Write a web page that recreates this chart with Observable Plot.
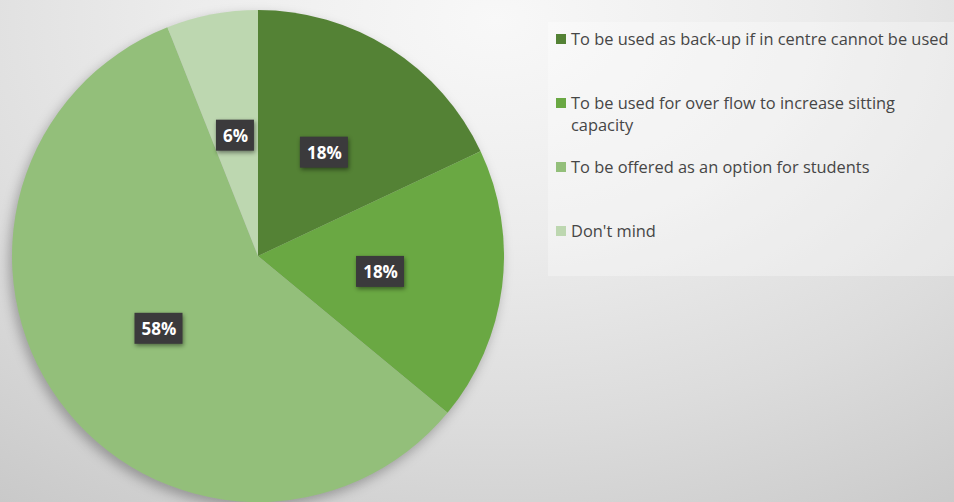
<!DOCTYPE html>
<html>
<head>
<meta charset="utf-8">
<script src="https://cdn.jsdelivr.net/npm/d3@7"></script>
<script src="https://cdn.jsdelivr.net/npm/@observablehq/plot@0.6"></script>
<style>
  html, body { margin: 0; padding: 0; }
  #frame {
    position: relative; width: 954px; height: 502px; overflow: hidden;
    background: radial-gradient(ellipse 900px 620px at 52% 4%, #f8f8f8 0%, #ececec 35%, #dcdcdc 65%, #c6c6c6 100%);
    font-family: "Open Sans", "Noto Sans", sans-serif;
  }
  #chart { position: absolute; left: 0; top: 0; }
  #legend {
    position: absolute; left: 548px; top: 22px; width: 406px; height: 254px;
    background: rgba(255,255,255,0.30);
    box-sizing: border-box; padding: 0;
  }
  .item { position: absolute; left: 8px; display: flex; align-items: flex-start; color: #464646; font-size: 16.4px; line-height: 22px; }
  .sw { width: 10px; height: 10px; margin-top: 6px; margin-right: 5px; flex: none; }
  .lbl { width: 385px; }
</style>
</head>
<body>
<div id="frame">
  <div id="chart"></div>
  <div id="legend"></div>
</div>
<script>
const categories = [
  "To be used as back-up if in centre cannot be used",
  "To be used for over flow to increase sitting capacity",
  "To be offered as an option for students",
  "Don't mind"
];
const values = [18, 18, 58, 6];
const labels = ["18%", "18%", "58%", "6%"];
const palette = ["#548235", "#6aa843", "#93bf7a", "#bdd7b0"];
const legendTops = [6, 70, 134, 198];

const color = Plot.scale({color: {type: "ordinal", domain: categories, range: palette}});

const arcs = d3.pie().sort(null).value(d => d.value)(
  categories.map((c, i) => ({category: c, value: values[i], label: labels[i]}))
);
// label positions at half the radius, in data units (radius = 1)
const slices = arcs.map(a => {
  const m = (a.startAngle + a.endAngle) / 2;
  return {...a.data, startAngle: a.startAngle, endAngle: a.endAngle,
          lx: 0.5 * Math.sin(m), ly: 0.5 * Math.cos(m)};
});

function pieMark(index, scales) {
  const cx = scales.x(0), cy = scales.y(0);
  const r = scales.x(1) - scales.x(0);
  const arc = d3.arc().innerRadius(0).outerRadius(r);
  const g = d3.create("svg:g").attr("transform", `translate(${cx},${cy})`)
    .style("filter", "drop-shadow(-3px 5px 6px rgba(0,0,0,0.28))");
  g.selectAll("path").data(slices).join("path")
    .attr("d", d => arc(d))
    .attr("fill", d => color.apply(d.category));
  return g.node();
}

function labelBoxes(index, scales) {
  const g = d3.create("svg:g");
  for (const d of slices) {
    const w = 10 * d.label.length + 18, h = 31;
    g.append("rect")
      .attr("x", scales.x(d.lx) - w / 2).attr("y", scales.y(d.ly) - h / 2)
      .attr("width", w).attr("height", h)
      .attr("fill", "#3b3a3c")
      .style("filter", "drop-shadow(1px 2px 2px rgba(0,0,0,0.45))");
  }
  return g.node();
}

const plot = Plot.plot({
  width: 516, height: 502,
  marginLeft: 12, marginRight: 12, marginTop: 10, marginBottom: 0,
  x: {domain: [-1, 1], axis: null},
  y: {domain: [-1, 1], axis: null},
  style: {background: "transparent", overflow: "visible"},
  marks: [
    pieMark,
    labelBoxes,
    Plot.text(slices, {x: "lx", y: "ly", text: "label", fill: "white",
      fontSize: 17, fontWeight: "bold", fontFamily: "Open Sans, Noto Sans, sans-serif", dy: 1})
  ]
});
document.getElementById("chart").appendChild(plot);

const legend = d3.select("#legend");
categories.forEach((c, i) => {
  const it = legend.append("div").attr("class", "item").style("top", legendTops[i] + "px");
  it.append("div").attr("class", "sw").style("background", color.apply(c));
  it.append("div").attr("class", "lbl").text(c);
});
</script>
</body>
</html>
